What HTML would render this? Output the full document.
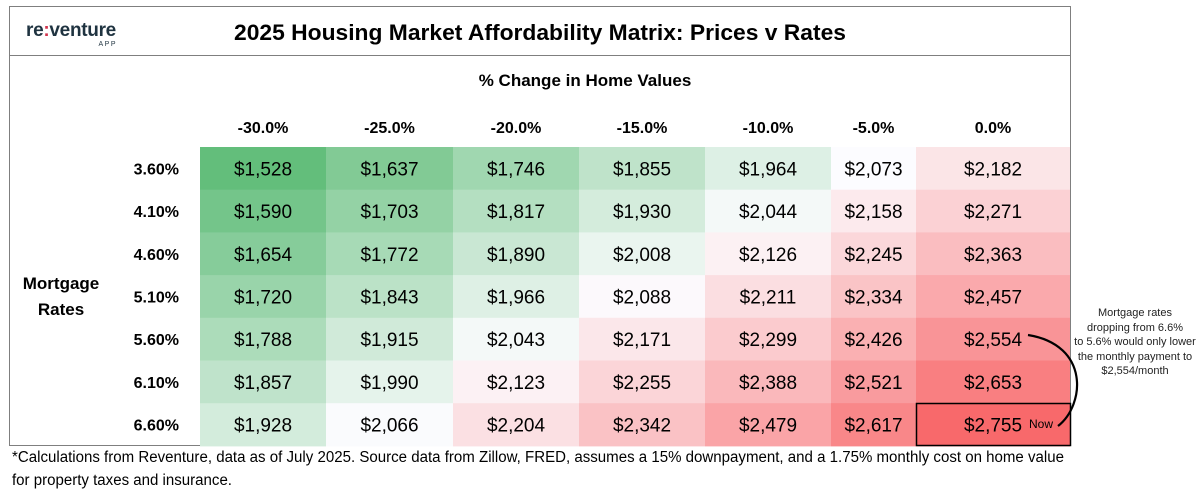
<!DOCTYPE html>
<html><head><meta charset="utf-8"><style>
html,body{margin:0;padding:0;background:#fff;width:1200px;height:493px;overflow:hidden}
svg{display:block}
text{font-family:"Liberation Sans",sans-serif}
</style></head><body>
<svg id="chart" width="1200" height="493" xmlns="http://www.w3.org/2000/svg">
<rect x="9.5" y="6.5" width="1061" height="439" fill="#fff" stroke="#7f7f7f"/>
<line x1="9.5" y1="55.5" x2="1070.5" y2="55.5" stroke="#7f7f7f"/>
<g>
<text x="26" y="36" font-size="19" fill="#1f3340" font-weight="bold" letter-spacing="-0.3">re<tspan fill="#d2344d">:</tspan>venture</text>
<text x="117" y="46" font-size="7" fill="#1f3340" text-anchor="end" letter-spacing="1.5">APP</text>
</g>
<text x="540" y="40" font-size="22.5" font-weight="bold" text-anchor="middle" fill="#000" textLength="612" lengthAdjust="spacingAndGlyphs">2025 Housing Market Affordability Matrix: Prices v Rates</text>
<text x="585" y="86" font-size="17" font-weight="bold" text-anchor="middle" fill="#000">% Change in Home Values</text>
<text x="61" y="289" font-size="17" font-weight="bold" text-anchor="middle"><tspan x="61">Mortgage</tspan><tspan x="61" dy="26">Rates</tspan></text>
<g id="cells"></g>
<rect x="916.5" y="403.5" width="154" height="42" fill="none" stroke="#000" stroke-width="1.5"/>
<text x="1029" y="428" font-size="12">Now</text>
<path d="M1028,335 C1090,345 1085,405 1058,426" fill="none" stroke="#000" stroke-width="2.2"/>
<g font-size="11" fill="#222" text-anchor="middle">
<text x="1135" y="316">Mortgage rates</text>
<text x="1135" y="331">dropping from 6.6%</text>
<text x="1135" y="345">to 5.6% would only lower</text>
<text x="1135" y="360">the monthly payment to</text>
<text x="1135" y="374">$2,554/month</text>
</g>
<g font-size="15.5" fill="#000">
<text x="12" y="462" textLength="1052" lengthAdjust="spacingAndGlyphs">*Calculations from Reventure, data as of July 2025. Source data from Zillow, FRED, assumes a 15% downpayment, and a 1.75% monthly cost on home value</text>
<text x="12" y="485" textLength="220" lengthAdjust="spacingAndGlyphs">for property taxes and insurance.</text>
</g>
</svg>
<script>
const colLabels = ["-30.0%","-25.0%","-20.0%","-15.0%","-10.0%","-5.0%","0.0%"];
const rowLabels = ["3.60%","4.10%","4.60%","5.10%","5.60%","6.10%","6.60%"];
const row0 = [1528,1637,1746,1855,1964,2073,2182];
const row1 = [1590,1703,1817,1930,2044,2158,2271];
const row2 = [1654,1772,1890,2008,2126,2245,2363];
const row3 = [1720,1843,1966,2088,2211,2334,2457];
const row4 = [1788,1915,2043,2171,2299,2426,2554];
const row5 = [1857,1990,2123,2255,2388,2521,2653];
const row6 = [1928,2066,2204,2342,2479,2617,2755];
const values = [row0,row1,row2,row3,row4,row5,row6];
const colEdges = [200,326,453,579,705,831,916,1070];
const top0 = 147, rowH = 42.7;
const NS = "http://www.w3.org/2000/svg";
const g = document.getElementById('cells');
const flat = values.flat();
const vmin = Math.min(...flat), vmax = Math.max(...flat);
const sorted = [...flat].sort((a,b)=>a-b);
const vmid = sorted[Math.floor(sorted.length/2)];
function color(v){
  let a,b,t;
  if(v<=vmid){a=[99,190,123];b=[252,252,255];t=(v-vmin)/(vmid-vmin);}
  else{a=[252,252,255];b=[248,105,107];t=(v-vmid)/(vmax-vmid);}
  return `rgb(${a.map((c,i)=>Math.round(c+(b[i]-c)*t)).join(',')})`;
}
function fmt(v){return '$'+v.toLocaleString('en-US');}
colLabels.forEach((c,j)=>{
  const t=document.createElementNS(NS,'text');
  t.setAttribute('x',(colEdges[j]+colEdges[j+1])/2);
  t.setAttribute('y',133);
  t.setAttribute('text-anchor','middle');t.setAttribute('font-size','16');t.setAttribute('font-weight','bold');
  
  
  t.textContent=c;g.appendChild(t);
});
rowLabels.forEach((r,i)=>{
  const y=top0+i*rowH;
  const t=document.createElementNS(NS,'text');
  t.setAttribute('x',179);t.setAttribute('y',y+rowH/2+6);
  t.setAttribute('text-anchor','end');t.setAttribute('font-size','16');t.setAttribute('font-weight','bold');
  
  
  t.textContent=r;g.appendChild(t);
  values[i].forEach((v,j)=>{
    const x0=colEdges[j],x1=colEdges[j+1];
    const rc=document.createElementNS(NS,'rect');
    rc.setAttribute('x',x0);rc.setAttribute('y',y);
    rc.setAttribute('width',x1-x0);rc.setAttribute('height',rowH+0.5);
    rc.setAttribute('fill',color(v));
    
    
    g.appendChild(rc);
    const tx=document.createElementNS(NS,'text');
    tx.setAttribute('x',(x0+x1)/2);tx.setAttribute('y',y+rowH/2+7);
    tx.setAttribute('text-anchor','middle');tx.setAttribute('font-size','19');
    
    
    tx.textContent=fmt(v);g.appendChild(tx);
  });
});
</script>
</body></html>
